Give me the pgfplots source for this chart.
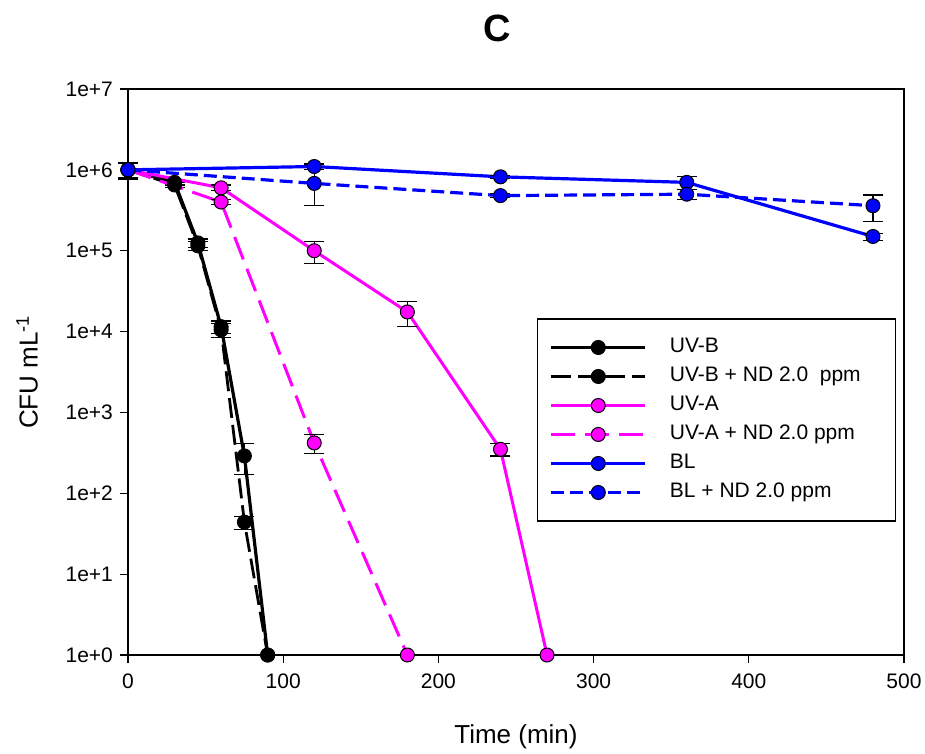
\documentclass[border=0pt]{standalone}
\usepackage{pgfplots}
\pgfplotsset{compat=1.18}
\usepackage{fontspec}
\setmainfont{Liberation Sans}
\definecolor{mag}{RGB}{255,0,255}
\definecolor{blu}{RGB}{0,0,255}
\begin{document}
\begin{tikzpicture}
\begin{axis}[
  scale only axis, width=388pt, height=283pt,
  xmin=0, xmax=500, ymin=1, ymax=1e7, ymode=log, log basis y=10,
  xtick={0,100,200,300,400,500},
  xticklabels={0,100,200,300,400,500},
  ytick={1,10,100,1000,10000,100000,1000000,10000000},
  yticklabels={1e+0,1e+1,1e+2,1e+3,1e+4,1e+5,1e+6,1e+7},
  yminorticks=false,
  tick pos=left, tick align=outside, major tick length=4pt,
  ticklabel style={font=\fontsize{10.5}{12}\selectfont},
  xticklabel style={yshift=-2pt},
  xlabel={Time (min)}, ylabel={CFU mL\textsuperscript{-1}},
  label style={font=\fontsize{13}{15}\selectfont},
  xlabel style={at={(axis description cs:0.5,-0.145)}, anchor=center},
  ylabel style={at={(axis description cs:-0.13,0.5)}, anchor=center},
  clip=false,
  axis line style={line width=0.6pt},
  every tick/.style={black, line width=0.6pt},
  error bars/y dir=both, error bars/y explicit,
  error bars/error bar style={black, line width=0.6pt, solid},
  error bars/error mark options={rotate=90, mark size=5pt, black, line width=0.6pt, solid},
  legend image code/.code={\draw[mark repeat=2,mark phase=2,#1] plot coordinates {(0pt,0pt) (23.5pt,0pt) (47pt,0pt)};},
  legend style={at={(0.527,0.595)}, anchor=north west, draw=black, line width=0.75pt,
    font=\fontsize{10.5}{12}\selectfont, inner xsep=6pt, inner ysep=7pt,
    row sep=0pt, cells={anchor=west},
    nodes={text height=8pt, text depth=2.5pt, inner ysep=2pt, inner xsep=11.5pt}},
]
\coordinate (bl) at (rel axis cs:0,0);
\coordinate (tr) at (rel axis cs:1,1);
% UV-B
\addplot[black, line width=1.6pt, mark=*, mark size=3.5pt, mark options={solid, fill=black, draw=black, line width=0.5pt}]
 coordinates {(0,1e6) +- (0,2.3e5) (30,7e5) +- (0,5e4) (45,1.25e5) +- (0,1.5e4) (60,1.15e4) +- (0,2e3) (75,290) +- (0,120) (90,1) +- (0,0)};
\addlegendentry{UV-B}
% UV-B + ND
\addplot[black, line width=1.4pt, dash pattern=on 10pt off 3.5pt, mark=*, mark size=3.5pt, mark options={solid, fill=black, draw=black, line width=0.5pt}]
 coordinates {(0,1e6) +- (0,2e5) (30,6.5e5) +- (0,5e4) (45,1.15e5) +- (0,1.5e4) (60,1.05e4) +- (0,2e3) (75,44) +- (0,8) (90,1) +- (0,0)};
\addlegendentry{UV-B + ND 2.0\ \ ppm}
% UV-A
\addplot[mag, line width=1.5pt, mark=*, mark size=3.5pt, mark options={solid, fill=mag, draw=black, line width=0.5pt}]
 coordinates {(0,1e6) +- (0,2e5) (60,6e5) +- (0,5e4) (120,1e5) +- (0,3e4) (180,1.75e4) +- (0,6e3) (240,350) +- (0,60) (270,1) +- (0,0)};
\addlegendentry{UV-A}
% UV-A + ND
\addplot[mag, line width=1.5pt, dash pattern=on 12pt off 5pt, mark=*, mark size=3.5pt, mark options={solid, fill=mag, draw=black, line width=0.5pt}]
 coordinates {(0,1e6) +- (0,2e5) (60,4e5) +- (0,3e4) (120,420) +- (0,110) (180,1) +- (0,0)};
\addlegendentry{UV-A + ND 2.0 ppm}
% BL
\addplot[blu, line width=1.6pt, mark=*, mark size=3.5pt, mark options={solid, fill=blu, draw=black, line width=0.5pt}]
 coordinates {(0,1e6) +- (0,2.3e5) (120,1.1e6) +- (0,8e4) (240,8.2e5) +- (0,3e4) (360,7e5) +- (0,1.3e5) (480,1.5e5) +- (0,1.5e4)};
\addlegendentry{BL}
% BL + ND
\addplot[blu, line width=1.6pt, dash pattern=on 6.5pt off 3pt, mark=*, mark size=3.5pt, mark options={solid, fill=blu, draw=black, line width=0.5pt}]
 coordinates {(0,1e6) +- (0,2e5) (120,6.8e5) +- (0,3.2e5) (240,4.8e5) +- (0,3e4) (360,5e5) +- (0,7e4) (480,3.6e5) +- (0,1.3e5)};
\addlegendentry{BL + ND 2.0 ppm}
\end{axis}
\node[font=\bfseries\fontsize{19}{22}\selectfont] at ([xshift=184.5pt, yshift=313.5pt]bl) {C};
\pgfresetboundingbox
\path[use as bounding box] ([xshift=-64pt,yshift=-49pt]bl) rectangle ([xshift=10.5pt,yshift=44.5pt]tr);
\end{tikzpicture}
\end{document}
